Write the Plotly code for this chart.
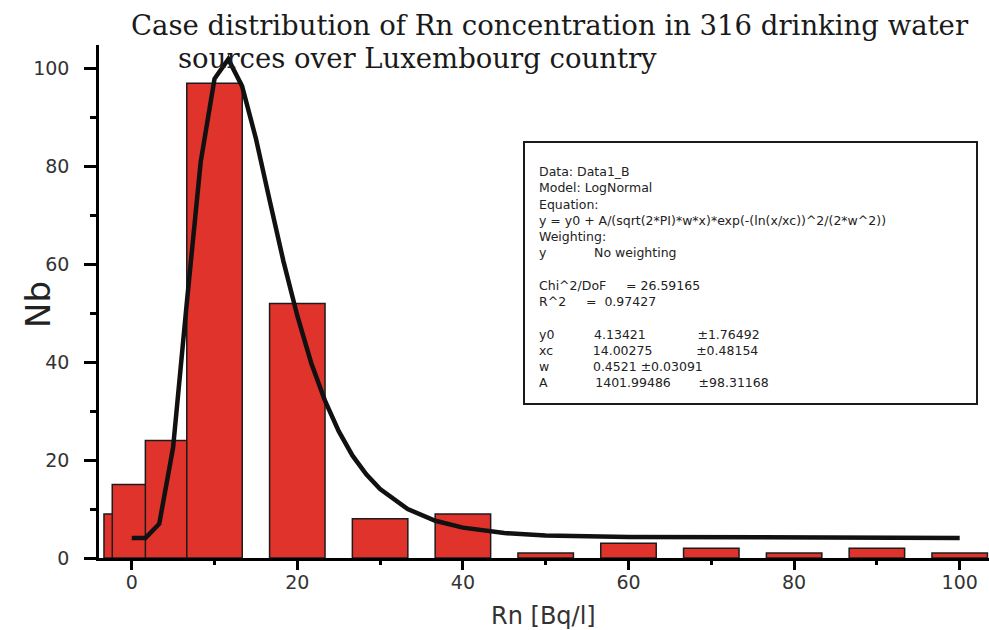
import plotly.graph_objects as go

# ---------------- data ----------------
bin_x = [0, 1, 5, 10, 20, 30, 40, 50, 60, 70, 80, 90, 100]
counts = [9, 15, 24, 97, 52, 8, 9, 1, 3, 2, 1, 2, 1]
bar_width = 6.7

fit_x = [0, 1.67, 3.33, 5, 6.67, 8.33, 10, 11.67, 13.33, 15, 16.67, 18.33, 20,
         21.67, 23.33, 25, 26.67, 28.33, 30, 33.33, 36.67, 40, 45, 50, 60, 70,
         80, 90, 100]
fit_y = [4.1, 4.1, 7.0, 22.6, 52.4, 80.9, 97.9, 101.9, 96.4, 85.7, 73.0, 60.6,
         49.5, 39.9, 32.2, 25.9, 20.9, 17.1, 14.1, 10.0, 7.6, 6.2, 5.1, 4.6,
         4.3, 4.2, 4.1, 4.1, 4.1]

x_ticks = [0, 20, 40, 60, 80, 100]
y_ticks = [0, 20, 40, 60, 80, 100]

param_names = ["y0", "xc", "w", "A"]
param_values = ["4.13421", "14.00275", "0.4521", "1401.99486"]
param_errors = ["1.76492", "0.48154", "0.03091", "98.31168"]
chi2_dof = "26.59165"
r_squared = "0.97427"

title_line1 = "Case distribution of Rn concentration in 316 drinking water"
title_line2 = "sources over Luxembourg country"

# ---------------- layout helpers ----------------
W, H = 989, 630
ML, MR, MT, MB = 99, 0, 45, 72
PW = W - ML - MR
PH = H - MT - MB


def px(x):
    return (x - ML) / PW


def py(y):
    return (H - MB - y) / PH


fig = go.Figure()

fig.add_trace(go.Bar(
    x=bin_x, y=counts, width=[bar_width] * len(bin_x),
    marker=dict(color="#E0332B", line=dict(color="#1c1c1c", width=1.5)),
    showlegend=False, hoverinfo="skip",
))

fig.add_trace(go.Scatter(
    x=fit_x, y=fit_y, mode="lines",
    line=dict(color="#111111", width=4.5),
    showlegend=False, hoverinfo="skip",
))

tick_font = dict(family="DejaVu Sans", size=19, color="#333333")

fig.update_layout(
    width=W, height=H, autosize=False,
    margin=dict(l=ML, r=MR, t=MT, b=MB, pad=0),
    plot_bgcolor="white", paper_bgcolor="white",
    showlegend=False,
    xaxis=dict(
        range=[-3.95, 103.54], tickvals=x_ticks, ticks="outside",
        ticklen=9, tickwidth=2.5, tickcolor="black",
        showline=True, linewidth=2.5, linecolor="black",
        showgrid=False, zeroline=False, tickfont=tick_font,
        ticklabelstandoff=-4,
        minor=dict(dtick=10, tick0=0, ticks="outside", ticklen=4,
                   tickwidth=2.5, tickcolor="black", showgrid=False),
    ),
    yaxis=dict(
        range=[0, 104.8], tickvals=y_ticks, ticks="outside",
        ticklen=12, tickwidth=2.5, tickcolor="black",
        showline=True, linewidth=2.5, linecolor="black",
        showgrid=False, zeroline=False, tickfont=tick_font,
        ticklabelstandoff=11,
        minor=dict(dtick=10, tick0=0, ticks="outside", ticklen=6,
                   tickwidth=2.5, tickcolor="black", showgrid=False),
    ),
)

annotations = []
# title (two lines)
title_font = dict(family="DejaVu Serif", size=27.5, color="#1a1a1a")
annotations.append(dict(text=title_line1, x=px(550), y=py(25), xref="paper", yref="paper",
                        xanchor="center", yanchor="middle", showarrow=False,
                        font=title_font))
annotations.append(dict(text=title_line2, x=px(417), y=py(58), xref="paper", yref="paper",
                        xanchor="center", yanchor="middle", showarrow=False,
                        font=title_font))
# axis titles
annotations.append(dict(text="Nb", x=px(38), y=py(305), xref="paper", yref="paper",
                        xanchor="center", yanchor="middle", showarrow=False, textangle=-90,
                        font=dict(family="DejaVu Sans", size=34, color="#222222")))
annotations.append(dict(text="Rn [Bq/l]", x=px(543), y=py(616), xref="paper", yref="paper",
                        xanchor="center", yanchor="middle", showarrow=False,
                        font=dict(family="DejaVu Sans", size=24, color="#333333")))

# fit results box: one multi-line text, columns aligned with non-breaking spaces
NB = "\u00a0"
pad2 = {"y0": 10, "xc": 10, "w": 11, "A": 12}
pad3 = {"y0": 13, "xc": 11, "A": 7}
lines = [
    "Data: Data1_B",
    "Model: LogNormal",
    "Equation:",
    "y = y0 + A/(sqrt(2*PI)*w*x)*exp(-(ln(x/xc))^2/(2*w^2))",
    "Weighting:",
    "y" + NB * 12 + "No weighting",
    "",
    "Chi^2/DoF" + NB * 5 + "=" + NB + chi2_dof,
    "R^2" + NB * 5 + "=" + NB * 2 + r_squared,
    "",
]
for name, val, err in zip(param_names, param_values, param_errors):
    if name == "w":
        lines.append(name + NB * pad2[name] + val + NB + "\u00b1" + err)
    else:
        lines.append(name + NB * pad2[name] + val + NB * pad3[name] + "\u00b1" + err)

annotations.append(dict(text="<br>".join(lines), x=px(537), y=py(276.5),
                        xref="paper", yref="paper", xanchor="left", yanchor="middle",
                        align="left", showarrow=False,
                        font=dict(family="DejaVu Sans", size=12.5, color="#222222")))

fig.update_layout(annotations=annotations)

fig.add_shape(type="rect", xref="paper", yref="paper",
              x0=px(524), x1=px(977), y0=py(404), y1=py(142),
              line=dict(color="#1a1a1a", width=2), fillcolor="rgba(0,0,0,0)",
              layer="above")

fig.write_html("out.html")
